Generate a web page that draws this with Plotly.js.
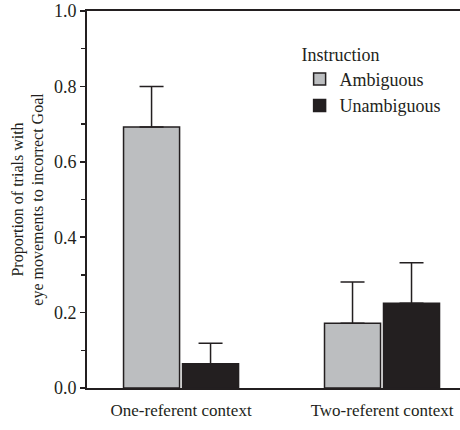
<!DOCTYPE html>
<html>
<head>
<meta charset="utf-8">
<script src="https://cdn.plot.ly/plotly-3.0.1.min.js"></script>
<style>html,body{margin:0;padding:0;background:#fff;}#chart{width:460px;height:430px;}</style>
</head>
<body>
<div id="chart"></div>
<script>
const categories = ["One-referent context", "Two-referent context"];
const ambiguous = [0.692, 0.172];
const ambiguousErr = [0.108, 0.109];
const unambiguous = [0.064, 0.225];
const unambiguousErr = [0.055, 0.107];
const yTickVals = [0, 0.2, 0.4, 0.6, 0.8, 1.0];
const yTickText = ["0.0", "0.2", "0.4", "0.6", "0.8", "1.0"];

const dark = '#231f20';
const font = {family: '"Liberation Serif", "Times New Roman", serif', color: dark};

const traces = [
  {
    type: 'bar', name: 'Ambiguous', x: categories, y: ambiguous,
    marker: {color: '#bcbec0', line: {color: dark, width: 1.5}},
    error_y: {type: 'data', array: ambiguousErr, arrayminus: [0, 0], symmetric: false, color: dark, thickness: 1.5, width: 12}
  },
  {
    type: 'bar', name: 'Unambiguous', x: categories, y: unambiguous,
    marker: {color: dark, line: {color: dark, width: 1.5}},
    error_y: {type: 'data', array: unambiguousErr, arrayminus: [0, 0], symmetric: false, color: dark, thickness: 1.5, width: 12}
  }
];

const layout = {
  width: 460, height: 430,
  margin: {l: 87, r: 0, t: 11, b: 42},
  paper_bgcolor: '#fff', plot_bgcolor: '#fff',
  font: Object.assign({size: 17}, font),
  barmode: 'group', bargap: 0.413, bargroupgap: 0.05,
  showlegend: true,
  legend: {
    x: 0.57, y: 0.93, xanchor: 'left', yanchor: 'top',
    bgcolor: 'rgba(0,0,0,0)',
    font: Object.assign({size: 18}, font),
    title: {text: 'Instruction', side: 'top', font: Object.assign({size: 18}, font)},
    tracegroupgap: 0, itemwidth: 30
  },
  xaxis: {
    type: 'category', range: [-0.468, 1.388],
    showline: true, linecolor: dark, linewidth: 2, mirror: true,
    ticks: '', showgrid: false, zeroline: false,
    tickfont: Object.assign({size: 17}, font), ticklabelstandoff: 6
  },
  yaxis: {
    range: [0, 1], tickvals: yTickVals, ticktext: yTickText,
    showline: true, linecolor: dark, linewidth: 2,
    ticks: 'outside', ticklen: 5, tickwidth: 1.5, tickcolor: dark,
    minor: {dtick: 0.1, ticks: 'outside', ticklen: 4, tickwidth: 1.5, tickcolor: dark},
    showgrid: false, zeroline: false,
    tickfont: Object.assign({size: 18}, font),
    title: {text: 'Proportion of trials with<br>eye movements to incorrect Goal', font: Object.assign({size: 16}, font), standoff: 6}
  }
};

Plotly.newPlot('chart', traces, layout, {staticPlot: true, displayModeBar: false});
</script>
</body>
</html>
